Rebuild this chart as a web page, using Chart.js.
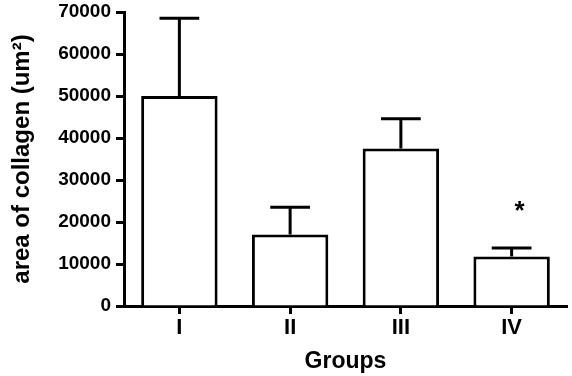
<!DOCTYPE html>
<html>
<head>
<meta charset="utf-8">
<script src="https://cdn.jsdelivr.net/npm/chart.js@4/dist/chart.umd.min.js"></script>
<style>
  html, body { margin: 0; padding: 0; background: #ffffff; }
  #wrap { width: 572px; height: 376px; }
</style>
</head>
<body>
<div id="wrap"><canvas id="c" width="572" height="376"></canvas></div>
<script>
// ---- data ----
const categories = ['I', 'II', 'III', 'IV'];
const meanValues = [50000, 17000, 37500, 11800];
const errorValues = [18500, 6500, 7100, 2000];
const significance = ['', '', '', '*'];
const yTicks = [0, 10000, 20000, 30000, 40000, 50000, 60000, 70000];
const yTitle = 'area of collagen (um\u00B2)';
const xTitle = 'Groups';

const FONT = '"Liberation Sans", Arial, sans-serif';

const errorBarPlugin = {
  id: 'errorBars',
  afterDatasetsDraw(chart) {
    const ctx = chart.ctx;
    const meta = chart.getDatasetMeta(0);
    const y = chart.scales.y;
    ctx.save();
    ctx.strokeStyle = '#000';
    ctx.lineWidth = 3;
    ctx.lineCap = 'butt';
    meta.data.forEach((bar, i) => {
      const x = bar.x;
      const yTop = y.getPixelForValue(meanValues[i]);
      const yErr = y.getPixelForValue(meanValues[i] + errorValues[i]);
      const half = bar.width * 0.26;
      ctx.beginPath();
      ctx.moveTo(x, yTop);
      ctx.lineTo(x, yErr);
      ctx.moveTo(x - half, yErr);
      ctx.lineTo(x + half, yErr);
      ctx.stroke();
      if (significance[i]) {
        ctx.fillStyle = '#000';
        ctx.font = 'bold 26px ' + FONT;
        ctx.textAlign = 'center';
        ctx.textBaseline = 'middle';
        const yStar = y.getPixelForValue(meanValues[i] + errorValues[i]) - 36;
        ctx.fillText(significance[i], x + 8, yStar);
      }
    });
    ctx.restore();
  }
};

new Chart(document.getElementById('c'), {
  type: 'bar',
  data: {
    labels: categories,
    datasets: [{
      data: meanValues,
      backgroundColor: '#ffffff',
      borderColor: '#000000',
      borderWidth: 3,
      borderSkipped: 'start',
      barPercentage: 0.69,
      categoryPercentage: 1.0
    }]
  },
  options: {
    responsive: false,
    animation: false,
    devicePixelRatio: 1,
    layout: { padding: { top: 12, right: 5, bottom: 0, left: 0 } },
    plugins: { legend: { display: false }, tooltip: { enabled: false } },
    scales: {
      x: {
        offset: true,
        grid: {
          display: true,
          offset: false,
          drawOnChartArea: false,
          drawTicks: true,
          tickLength: 8,
          tickWidth: 3,
          tickColor: '#000'
        },
        border: { display: true, color: '#000', width: 3 },
        ticks: {
          color: '#000',
          padding: 1,
          font: { family: FONT, size: 22, weight: 'bold' },
          maxRotation: 0
        },
        title: {
          display: true,
          text: xTitle,
          color: '#000',
          font: { family: FONT, size: 23, weight: 'bold' },
          padding: { top: 0, bottom: 1 }
        },
        afterFit(scale) { scale.height = 70; }
      },
      y: {
        min: 0,
        max: 70000,
        afterBuildTicks(scale) { scale.ticks = yTicks.map(v => ({ value: v })); },
        grid: {
          display: true,
          drawOnChartArea: false,
          drawTicks: true,
          tickLength: 8,
          tickWidth: 3,
          tickColor: '#000'
        },
        border: { display: true, color: '#000', width: 3 },
        ticks: {
          color: '#000',
          padding: 5,
          font: { family: FONT, size: 19, weight: 'bold', lineHeight: 1.0 },
          callback: (v) => String(v)
        },
        title: {
          display: true,
          text: yTitle,
          color: '#000',
          font: { family: FONT, size: 24, weight: 'bold' },
          padding: { top: 8, bottom: 0 }
        },
        afterFit(scale) {
          scale.width = 124;
          scale.paddingTop = 0;
          scale.paddingBottom = 0;
        }
      }
    }
  },
  plugins: [errorBarPlugin]
});
</script>
</body>
</html>
